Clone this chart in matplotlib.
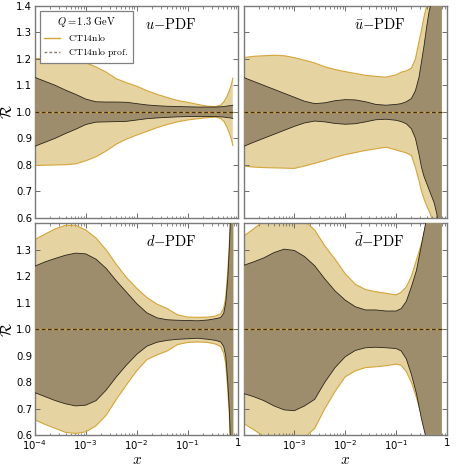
import numpy as np
import matplotlib
matplotlib.use("Agg")
import matplotlib.pyplot as plt
from matplotlib.ticker import FixedLocator, FixedFormatter, LogLocator, NullFormatter
from matplotlib.lines import Line2D

plt.rcParams['mathtext.fontset'] = 'cm'
plt.rcParams['font.family'] = 'DejaVu Sans'

# ---------------- data (x given as log10 x) ----------------
u_logx = [-4, -3.8, -3.6, -3.4, -3.2, -3.0, -2.8, -2.6, -2.4, -2.2, -2.0, -1.8, -1.6, -1.4, -1.2, -1.0,
          -0.8, -0.6, -0.45, -0.35, -0.28, -0.22, -0.17, -0.13, -0.11]
u_out_hi = [1.202, 1.201, 1.200, 1.199, 1.195, 1.185, 1.170, 1.150, 1.125, 1.110, 1.097, 1.080, 1.066, 1.054,
            1.043, 1.036, 1.028, 1.021, 1.020, 1.025, 1.040, 1.060, 1.085, 1.110, 1.127]
u_out_lo = [0.797, 0.798, 0.799, 0.800, 0.803, 0.815, 0.830, 0.852, 0.878, 0.897, 0.912, 0.926, 0.940, 0.952,
            0.962, 0.969, 0.974, 0.978, 0.980, 0.975, 0.962, 0.940, 0.915, 0.890, 0.873]
u_in_hi = [1.130, 1.115, 1.100, 1.082, 1.066, 1.048, 1.038, 1.037, 1.037, 1.036, 1.031, 1.026, 1.023, 1.021,
           1.020, 1.019, 1.018, 1.018, 1.018, 1.019, 1.020, 1.022, 1.023, 1.024, 1.025]
u_in_lo = [0.870, 0.885, 0.900, 0.918, 0.934, 0.952, 0.961, 0.962, 0.963, 0.964, 0.969, 0.974, 0.977, 0.979,
           0.981, 0.982, 0.982, 0.982, 0.982, 0.981, 0.980, 0.978, 0.977, 0.976, 0.975]

ub_logx = [-4, -3.8, -3.6, -3.4, -3.2, -3.0, -2.8, -2.6, -2.4, -2.2, -2.0, -1.8, -1.6, -1.4, -1.2, -1.0,
           -0.9, -0.8, -0.7, -0.62, -0.55, -0.5, -0.45, -0.40, -0.35, -0.30, -0.25, -0.2, -0.15, -0.1]
ub_out_hi = [1.205, 1.210, 1.212, 1.214, 1.212, 1.205, 1.195, 1.185, 1.170, 1.160, 1.152, 1.145, 1.138, 1.134,
             1.131, 1.140, 1.150, 1.155, 1.165, 1.200, 1.265, 1.310, 1.360, 1.400, 1.46, 1.55, 1.65, 1.8, 2.0, 2.3]
ub_out_lo = [0.795, 0.791, 0.789, 0.788, 0.787, 0.786, 0.795, 0.805, 0.816, 0.828, 0.838, 0.846, 0.854, 0.860,
             0.866, 0.856, 0.850, 0.845, 0.835, 0.790, 0.740, 0.700, 0.670, 0.645, 0.625, 0.600, 0.56, 0.5, 0.4, 0.3]
ub_in_hi = [1.130, 1.115, 1.100, 1.085, 1.070, 1.055, 1.040, 1.031, 1.034, 1.042, 1.046, 1.045, 1.038, 1.028,
            1.025, 1.028, 1.031, 1.038, 1.050, 1.080, 1.130, 1.190, 1.250, 1.320, 1.380, 1.42, 1.5, 1.6, 1.8, 2.2]
ub_in_lo = [0.869, 0.885, 0.900, 0.915, 0.930, 0.945, 0.958, 0.965, 0.962, 0.956, 0.953, 0.955, 0.962, 0.970,
            0.972, 0.968, 0.963, 0.955, 0.936, 0.900, 0.840, 0.790, 0.755, 0.730, 0.705, 0.680, 0.655, 0.615, 0.55, 0.45]

d_logx = [-4, -3.8, -3.6, -3.4, -3.2, -3.0, -2.8, -2.6, -2.4, -2.2, -2.0, -1.8, -1.6, -1.4, -1.2, -1.0,
          -0.8, -0.6, -0.45, -0.35, -0.29, -0.25, -0.21, -0.18, -0.15, -0.1]
d_out_hi = [1.340, 1.360, 1.380, 1.393, 1.393, 1.375, 1.345, 1.300, 1.245, 1.195, 1.155, 1.120, 1.095, 1.078,
            1.055, 1.046, 1.045, 1.046, 1.050, 1.058, 1.080, 1.120, 1.220, 1.320, 1.45, 2.0]
d_out_lo = [0.657, 0.640, 0.625, 0.610, 0.606, 0.612, 0.635, 0.675, 0.735, 0.790, 0.843, 0.885, 0.903, 0.918,
            0.942, 0.950, 0.952, 0.950, 0.944, 0.935, 0.910, 0.870, 0.770, 0.680, 0.50, 0.0]
d_in_hi = [1.239, 1.255, 1.268, 1.280, 1.288, 1.285, 1.265, 1.230, 1.183, 1.140, 1.097, 1.062, 1.043, 1.036,
           1.034, 1.033, 1.032, 1.035, 1.040, 1.044, 1.060, 1.100, 1.190, 1.300, 1.45, 1.9]
d_in_lo = [0.760, 0.745, 0.730, 0.718, 0.710, 0.713, 0.730, 0.770, 0.820, 0.865, 0.905, 0.936, 0.951, 0.958,
           0.962, 0.964, 0.966, 0.962, 0.958, 0.952, 0.935, 0.900, 0.800, 0.700, 0.55, 0.1]

db_logx = [-4, -3.8, -3.6, -3.4, -3.2, -3.0, -2.8, -2.6, -2.4, -2.2, -2.0, -1.8, -1.6, -1.4, -1.2, -1.0,
           -0.9, -0.8, -0.7, -0.6, -0.5, -0.4, -0.25, -0.1]
db_out_hi = [1.352, 1.380, 1.410, 1.430, 1.440, 1.430, 1.410, 1.375, 1.315, 1.265, 1.210, 1.170, 1.150, 1.142,
             1.136, 1.130, 1.140, 1.160, 1.200, 1.262, 1.325, 1.405, 1.8, 2.5]
db_out_lo = [0.644, 0.620, 0.595, 0.575, 0.560, 0.570, 0.590, 0.625, 0.700, 0.765, 0.820, 0.843, 0.855, 0.858,
             0.862, 0.868, 0.864, 0.840, 0.800, 0.742, 0.675, 0.595, 0.3, 0.0]
db_in_hi = [1.2415, 1.255, 1.270, 1.290, 1.303, 1.298, 1.275, 1.240, 1.190, 1.145, 1.110, 1.085, 1.073, 1.073,
            1.069, 1.069, 1.078, 1.105, 1.160, 1.222, 1.320, 1.420, 1.7, 2.2]
db_in_lo = [0.757, 0.745, 0.730, 0.710, 0.695, 0.692, 0.710, 0.735, 0.800, 0.855, 0.896, 0.920, 0.930, 0.932,
            0.930, 0.927, 0.918, 0.888, 0.830, 0.757, 0.660, 0.580, 0.3, 0.0]

panel_labels = [r'$u{-}\mathrm{PDF}$', r'$\bar{u}{-}\mathrm{PDF}$', r'$d{-}\mathrm{PDF}$', r'$\bar{d}{-}\mathrm{PDF}$']
xtick_vals = [1e-4, 1e-3, 1e-2, 1e-1, 1]
xtick_labels = [r'$\mathdefault{10^{-4}}$', r'$\mathdefault{10^{-3}}$', r'$\mathdefault{10^{-2}}$',
                r'$\mathdefault{10^{-1}}$', '1']
ytick_vals = [0.6, 0.7, 0.8, 0.9, 1.0, 1.1, 1.2, 1.3, 1.4]

panels = [
    (u_logx, u_out_hi, u_out_lo, u_in_hi, u_in_lo),
    (ub_logx, ub_out_hi, ub_out_lo, ub_in_hi, ub_in_lo),
    (d_logx, d_out_hi, d_out_lo, d_in_hi, d_in_lo),
    (db_logx, db_out_hi, db_out_lo, db_in_hi, db_in_lo),
]

OUT_FILL = '#E6D3A2'
OUT_EDGE = '#D4A53A'
IN_FILL = '#9D8D6D'
IN_EDGE = '#2a2418'
SPINE = '#7a7a7a'

fig, axs = plt.subplots(2, 2, figsize=(4.57, 4.66), dpi=100)
fig.subplots_adjust(left=0.0766, right=0.978, top=0.987, bottom=0.0665, wspace=0.025, hspace=0.028)

for i, ax in enumerate(axs.flat):
    lx, ohi, olo, ihi, ilo = panels[i]
    x = 10 ** np.array(lx)
    ax.fill_between(x, olo, ohi, facecolor=OUT_FILL, edgecolor='none', zorder=1)
    ax.plot(x, ohi, color=OUT_EDGE, lw=0.8, zorder=2)
    ax.plot(x, olo, color=OUT_EDGE, lw=0.8, zorder=2)
    ax.fill_between(x, ilo, ihi, facecolor=IN_FILL, edgecolor='none', zorder=3)
    ax.plot(x, ihi, color=IN_EDGE, lw=0.6, zorder=4)
    ax.plot(x, ilo, color=IN_EDGE, lw=0.6, zorder=4)
    ax.plot([x[0], x[-1]], [1.0, 1.0], color=OUT_EDGE, lw=1.0, zorder=5)
    ax.plot([x[0], x[-1]], [1.0, 1.0], color='#3a2e1a', lw=0.9, ls=(0, (3, 2)), zorder=6)

    ax.set_xscale('log')
    ax.set_xlim(1e-4, 1)
    ax.set_ylim(0.6, 1.4)
    ax.xaxis.set_major_locator(FixedLocator(xtick_vals))
    ax.xaxis.set_minor_locator(LogLocator(base=10, subs=np.arange(2, 10), numticks=20))
    ax.xaxis.set_minor_formatter(NullFormatter())
    ax.yaxis.set_major_locator(FixedLocator(ytick_vals))
    ax.tick_params(which='both', direction='in', top=True, right=True, colors='#555555',
                   labelcolor='black', labelsize=7.3, pad=2)
    ax.tick_params(axis='x', which='major', pad=2.5)
    ax.tick_params(which='major', length=3.5, width=0.6)
    ax.tick_params(which='minor', length=1.8, width=0.5)
    for s in ax.spines.values():
        s.set_color(SPINE)
        s.set_linewidth(1.0)

    row, col = divmod(i, 2)
    if row == 1:
        labs = list(xtick_labels)
        if col == 1:
            labs[0] = ''
        ax.xaxis.set_major_formatter(FixedFormatter(labs))
        ax.set_xlabel(r'$x$', fontsize=11, labelpad=0)
    else:
        ax.set_xticklabels([])
    if col == 0:
        ylabs = ['%.1f' % v for v in ytick_vals]
        if row == 1:
            ylabs[-1] = ''
        ax.yaxis.set_major_formatter(FixedFormatter(ylabs))
        ax.set_ylabel(r'$\mathcal{R}$', fontsize=11, labelpad=1)
    else:
        ax.set_yticklabels([])

    ax.text(0.67, 0.915, panel_labels[i], transform=ax.transAxes, ha='center', va='center',
            fontsize=10.5, zorder=10)

handles = [Line2D([], [], color=OUT_EDGE, lw=1.0),
           Line2D([], [], color='#8a7d68', lw=1.0, ls=(0, (2, 1.5)))]
leg = axs[0, 0].legend(handles, [r'$\mathrm{CT14nlo}$', r'$\mathrm{CT14nlo\ prof.}$'],
                       title=r'$Q=1.3\ \mathrm{GeV}$', loc='upper left', bbox_to_anchor=(0.025, 0.975),
                       fontsize=7, title_fontsize=7.5, fancybox=False, framealpha=1,
                       edgecolor='#808080', handlelength=1.6, borderpad=0.4, labelspacing=0.3,
                       handletextpad=0.9, borderaxespad=0)
leg.get_frame().set_linewidth(0.9)
leg.set_zorder(20)

fig.savefig('out.png', dpi=100)
